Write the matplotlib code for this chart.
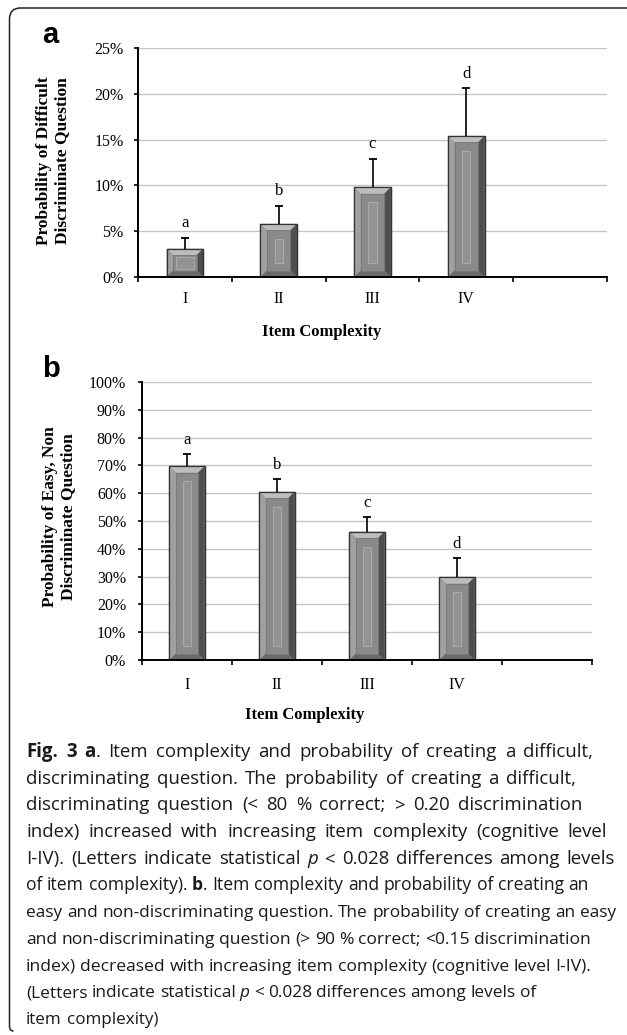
import numpy as np
import matplotlib
matplotlib.use('Agg')
import matplotlib.pyplot as plt
from matplotlib.patches import Polygon, Rectangle, PathPatch
from matplotlib.path import Path
from matplotlib.transforms import IdentityTransform
from matplotlib.font_manager import FontProperties

# ---------------- data ----------------
categories = ['I', 'II', 'III', 'IV']
a_values = [3.1, 5.8, 9.8, 15.4]
a_upper = [4.3, 7.8, 12.9, 20.6]
a_letters = ['a', 'b', 'c', 'd']
a_yticks = [0, 5, 10, 15, 20, 25]
a_ylabel = 'Probability of Difficult\nDiscriminate Question'

b_values = [69.7, 60.5, 46.2, 29.8]
b_upper = [74.0, 65.0, 51.3, 36.6]
b_letters = ['a', 'b', 'c', 'd']
b_yticks = [0, 10, 20, 30, 40, 50, 60, 70, 80, 90, 100]
b_ylabel = 'Probability of Easy, Non\nDiscriminate Question'

xlabel = 'Item Complexity'

caption_segments = [
    [("Fig. 3 a", 'b'), (". Item complexity and probability of creating a difficult,", 'r')],
    [("discriminating question. The probability of creating a difficult,", 'r')],
    [("discriminating question (< 80 % correct; > 0.20 discrimination", 'r')],
    [("index) increased with increasing item complexity (cognitive level", 'r')],
    [("I-IV). (Letters indicate statistical ", 'r'), ("p", 'i'), (" < 0.028 differences among levels", 'r')],
    [("of item complexity). ", 'r'), ("b", 'b'), (". Item complexity and probability of creating an", 'r')],
    [("easy and non-discriminating question. The probability of creating an easy", 'r')],
    [("and non-discriminating question (> 90 % correct; <0.15 discrimination", 'r')],
    [("index) decreased with increasing item complexity (cognitive level I-IV).", 'r')],
    [("(Letters indicate statistical ", 'r'), ("p", 'i'), (" < 0.028 differences among levels of", 'r')],
    [("item complexity)", 'r')],
]
caption_right = [593, 576, 582, 607, 615, 589, 616, 591, 591, 536, 158]

# ---------------- figure ----------------
W, H = 627, 1035
DPI = 100
fig = plt.figure(figsize=(W / DPI, H / DPI), dpi=DPI)
fig.patch.set_facecolor('white')

SERIF = 'Liberation Serif'


def px_axes(left, top, right, bottom):
    return fig.add_axes([left / W, 1 - bottom / H, (right - left) / W, (bottom - top) / H])


def bevel_bars(ax, bars):
    T = ax.transData
    inv = T.inverted()
    for r in bars:
        (x0, y0), (x1, y1) = T.transform([(r.get_x(), r.get_y()),
                                          (r.get_x() + r.get_width(), r.get_y() + r.get_height())])
        h = y1 - y0
        bw = x1 - x0
        b = min(6.5, h / 4)
        polys = [
            ([(x0, y1), (x1, y1), (x1 - b, y1 - b), (x0 + b, y1 - b)], '#bdbdbd'),
            ([(x0, y0), (x0, y1), (x0 + b, y1 - b), (x0 + b, y0 + b)], '#a0a0a0'),
            ([(x1, y0), (x1, y1), (x1 - b, y1 - b), (x1 - b, y0 + b)], '#4e4e4e'),
            ([(x0, y0), (x1, y0), (x1 - b, y0 + b), (x0 + b, y0 + b)], '#6a6a6a'),
        ]
        for pts, c in polys:
            ax.add_patch(Polygon(inv.transform(pts), closed=True, facecolor=c,
                                 edgecolor='none', zorder=3.1))
        p0 = inv.transform((x0 + b, y0 + b))
        p1 = inv.transform((x1 - b, y1 - b))
        ax.add_patch(Rectangle(p0, p1[0] - p0[0], p1[1] - p0[1], facecolor='#8a8a8a',
                               edgecolor='#787878', lw=0.6, zorder=3.2))
        if h > 45:
            sw = bw * 0.22
            s0 = inv.transform(((x0 + x1) / 2 - sw / 2, y0 + 14))
            s1 = inv.transform(((x0 + x1) / 2 + sw / 2, y1 - 15))
        else:
            s0 = inv.transform((x0 + 9, y0 + b + 1.5))
            s1 = inv.transform((x1 - 9, y1 - b - 1.5))
        ax.add_patch(Rectangle(s0, s1[0] - s0[0], s1[1] - s0[1], facecolor='#939393',
                               edgecolor='#a9a9a9', lw=0.8, zorder=3.3))
        ax.add_patch(Rectangle((r.get_x(), r.get_y()), r.get_width(), r.get_height(),
                               fill=False, edgecolor='#333333', lw=0.9, zorder=3.4))


def draw_panel(ax, values, upper, letters, yticks, ymax, xpad, ypad):
    x = np.arange(len(categories))
    ax.set_xlim(-0.5, 4.5)
    ax.set_ylim(0, ymax)
    ax.set_yticks(yticks)
    ax.set_yticklabels([f'{t}%' for t in yticks], fontfamily=SERIF, fontsize=11.5)
    ax.set_xticks(x)
    ax.set_xticklabels(categories, fontfamily=SERIF, fontsize=11.5)
    ax.set_xticks(np.arange(-0.5, 4.6, 1.0), minor=True)
    ax.tick_params(axis='x', which='major', length=0, pad=xpad)
    ax.tick_params(axis='x', which='minor', length=3.5, width=1.2, direction='out', color='black')
    ax.tick_params(axis='y', which='major', length=3.0, width=1.2, direction='out', pad=ypad)
    for s in ['top', 'right']:
        ax.spines[s].set_visible(False)
    for s in ['left', 'bottom']:
        ax.spines[s].set_linewidth(1.4)
        ax.spines[s].set_zorder(5)
    ax.yaxis.grid(True, color='#c6c6c6', lw=1.0)
    ax.set_axisbelow(True)
    bars = ax.bar(x, values, width=0.39, color='#8a8a8a', edgecolor='#333333', lw=0.9, zorder=3)
    bevel_bars(ax, bars)
    ax.vlines(x, values, upper, color='black', lw=1.2, zorder=4)
    ax.plot(x, upper, ls='none', marker='_', ms=5.5, mew=1.3, color='black', zorder=4)
    for xi, u, l in zip(x, upper, letters):
        ax.annotate(l, (xi, u), xytext=(0, 10.5), textcoords='offset points', ha='center',
                    va='center', fontsize=12, fontfamily=SERIF)


axa = px_axes(138, 48, 607, 277)
draw_panel(axa, a_values, a_upper, a_letters, a_yticks, 25, 10, 7.5)
axb = px_axes(142, 382, 592, 660)
draw_panel(axb, b_values, b_upper, b_letters, b_yticks, 100, 12.5, 8.5)

# axis titles
fig.text(53 / W, 1 - 161 / H, a_ylabel, rotation=90, ha='center', va='center',
         fontfamily=SERIF, fontweight='bold', fontsize=12.5, linespacing=1.2, multialignment='center')
fig.text(59 / W, 1 - 517 / H, b_ylabel, rotation=90, ha='center', va='center',
         fontfamily=SERIF, fontweight='bold', fontsize=12.5, linespacing=1.2, multialignment='center')
fig.text(322 / W, 1 - 332 / H, xlabel, ha='center', va='center', fontfamily=SERIF,
         fontweight='bold', fontsize=12)
fig.text(305 / W, 1 - 715 / H, xlabel, ha='center', va='center', fontfamily=SERIF,
         fontweight='bold', fontsize=12)

# panel letters
fig.text(42 / W, 1 - 43 / H, 'a', ha='left', va='baseline', fontfamily='Liberation Sans',
         fontweight='bold', fontsize=21)
fig.text(42 / W, 1 - 377 / H, 'b', ha='left', va='baseline', fontfamily='Liberation Sans',
         fontweight='bold', fontsize=21)

# frame (rounded top-left corner, open to the right)
r = 11
top_y = H - 8
left_x = 9.5
bot_y = H - 1031
verts = [(W + 20, top_y), (left_x + r, top_y), (left_x, top_y), (left_x, top_y - r),
         (left_x, bot_y + 5), (left_x, bot_y), (left_x + 4, bot_y)]
codes = [Path.MOVETO, Path.LINETO, Path.CURVE3, Path.CURVE3, Path.LINETO, Path.CURVE3, Path.CURVE3]
fig.add_artist(PathPatch(Path(verts, codes), fill=False, edgecolor='#222222', lw=1.1,
                         transform=IdentityTransform()))

# caption with per-line justification
CAP = 'Open Sans'
S = 13.4
renderer = fig.canvas.get_renderer()


def prop_for(style, size):
    if style == 'b':
        return FontProperties(family=CAP, weight='bold', size=size)
    if style == 'i':
        return FontProperties(family=CAP, style='italic', size=size)
    return FontProperties(family=CAP, size=size)


def text_w(s, style, size):
    w, _, _ = renderer.get_text_width_height_descent(s, prop_for(style, size), ismath=False)
    return w


def split_words(segments):
    words, cur = [], []
    for text, style in segments:
        parts = text.split(' ')
        for i, p in enumerate(parts):
            if i > 0 and cur:
                words.append(cur)
                cur = []
            if p:
                cur.append((p, style))
    if cur:
        words.append(cur)
    return words


left = 26
base0 = 757
lead = 26.7
for li, (segs, right) in enumerate(zip(caption_segments, caption_right)):
    words = split_words(segs)
    size = S
    sp = text_w('a a', 'r', size) - text_w('aa', 'r', size)
    wsum = sum(text_w(t, st, size) for w in words for t, st in w)
    natural = wsum + sp * (len(words) - 1)
    target = right - left
    if natural > target:
        size = S * target / natural
        wsum = sum(text_w(t, st, size) for w in words for t, st in w)
    gap = (target - wsum) / max(len(words) - 1, 1)
    x = left
    y = base0 + li * lead
    for w in words:
        for t, st in w:
            fig.text(x / W, 1 - y / H, t, fontproperties=prop_for(st, size), ha='left',
                     va='baseline', color='#1a1a1a')
            x += text_w(t, st, size)
        x += gap

fig.savefig('out.png', dpi=DPI, facecolor='white')
